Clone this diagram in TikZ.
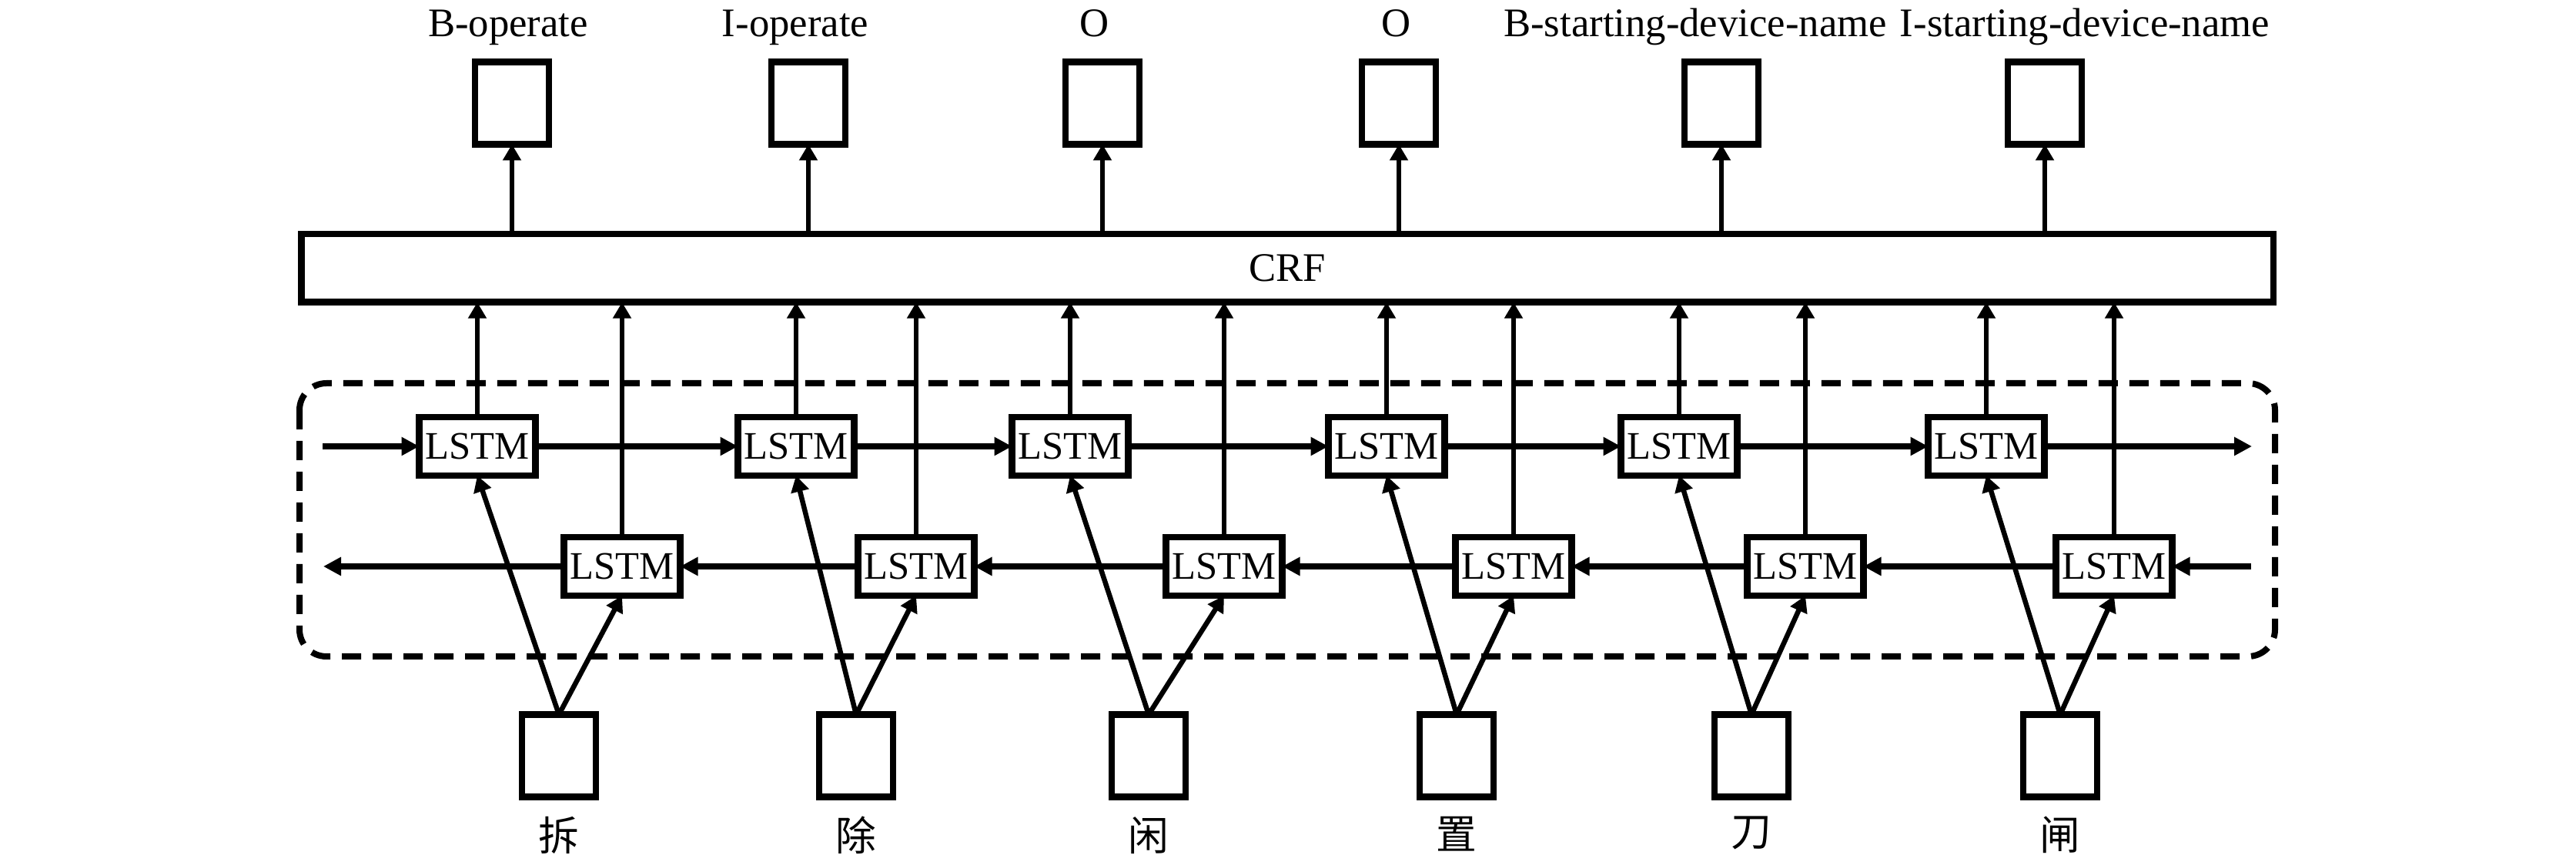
\documentclass[tikz,border=0pt]{standalone}
\usepackage{fontspec}
\setmainfont{Liberation Serif}
\newfontfamily\cjk{Noto Sans CJK SC}
\usepackage{tikz}
\usetikzlibrary{positioning,arrows.meta}

\begin{document}
\begin{tikzpicture}[
  box/.style={draw,line width=0.085cm,minimum width=0.96cm,minimum height=1.07cm,inner sep=0pt,outer sep=0pt},
  cell/.style={draw,line width=0.085cm,minimum width=1.51cm,minimum height=0.76cm,inner sep=0pt,outer sep=0pt,font=\fontsize{14.4pt}{16pt}\selectfont},
  tag/.style={anchor=base,inner sep=0pt,font=\fontsize{15pt}{18pt}\selectfont},
  link/.style={line width=0.065cm,-{Triangle[length=0.21cm,width=0.23cm]}},
  flow/.style={line width=0.085cm,-{Triangle[length=0.23cm,width=0.23cm]}}
]
\useasboundingbox (0,0) rectangle (33.46,-11.24);
\node[draw,line width=0.085cm,minimum width=25.615cm,minimum height=0.885cm,inner sep=0pt,outer sep=0pt,font=\fontsize{15pt}{18pt}\selectfont](crf) at (16.72,-3.485){CRF};
\draw[line width=0.08cm,dash pattern=on 0.25cm off 0.15cm,rounded corners=0.35cm] (3.89,-4.98) rectangle (29.55,-8.53);
\foreach \x/\lx/\t[count=\i] in {
  6.65/6.60/B-operate,
  10.50/10.33/I-operate,
  14.32/14.22/O,
  18.17/18.14/O,
  22.36/22.02/B-starting-device-name,
  26.56/27.08/I-starting-device-name
}{
\node[box](out\i) at (\x,-1.34){};
\node[tag](tag\i) at (\lx,-0.48){\t};
\draw[link] (out\i.south |- crf.north) -- (out\i.south);
}
\foreach \fx/\bx[count=\i] in {
  6.20/8.08,
  10.34/11.90,
  13.90/15.90,
  18.01/19.66,
  21.81/23.45,
  25.80/27.46
}{
\node[cell](f\i) at (\fx,-5.80){LSTM};
\node[cell](b\i) at (\bx,-7.36){LSTM};
\draw[link] (f\i.north) -- (f\i.north |- crf.south);
\draw[link] (b\i.north) -- (b\i.north |- crf.south);
}
\foreach \x/\t[count=\i] in {
  7.26/拆,
  11.12/除,
  14.92/闲,
  18.92/置,
  22.75/刀,
  26.76/闸
}{
\node[box](in\i) at (\x,-9.82){};
\node[below=0.25cm of in\i,inner sep=0pt,font=\cjk\fontsize{15pt}{18pt}\selectfont](ch\i){\t};
\draw[link] (in\i.north) -- (f\i.south);
\draw[link] (in\i.north) -- (b\i.south);
}
\coordinate (fin) at (4.19,-5.80);
\coordinate (fout) at (29.25,-5.80);
\coordinate (bin) at (29.24,-7.36);
\coordinate (bout) at (4.20,-7.36);
\draw[flow] (fin) -- (f1);
\foreach \i[evaluate=\i as \j using int(\i+1)] in {1,...,5}
  \draw[flow] (f\i) -- (f\j);
\draw[flow] (f6) -- (fout);
\draw[flow] (bin) -- (b6);
\foreach \i[evaluate=\i as \j using int(\i+1)] in {1,...,5}
  \draw[flow] (b\j) -- (b\i);
\draw[flow] (b1) -- (bout);
\end{tikzpicture}
\end{document}
